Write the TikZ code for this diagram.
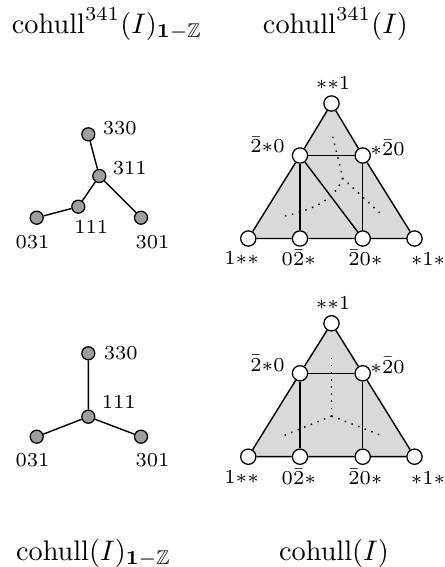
\documentclass[tikz,border=0pt]{standalone}
\usepackage{amsmath,amssymb}
\pgfdeclarelayer{background}
\pgfsetlayers{background,main}
\begin{document}
\begin{tikzpicture}[x=0.3534pt,y=-0.3534pt,
  tnode/.style={circle,draw,fill=black!38,inner sep=0pt,minimum size=4.6pt,line width=0.45pt},
  wnode/.style={circle,draw,fill=white,inner sep=0pt,minimum size=5.4pt,line width=0.45pt},
  edge/.style={line width=0.5pt},
  tri/.style={fill=black!15},
  dot/.style={dotted,line width=0.5pt},
  lab/.style={font=\scriptsize,inner sep=0pt},
  ttl/.style={inner sep=0pt,anchor=base}]
\useasboundingbox (0,0) rectangle (445,567);

% titles
\node[ttl] (t1) at (107,33) {$\mathrm{cohull}^{341}(I)_{\mathbf{1}-\mathbb{Z}}$};
\node[ttl] (t2) at (335.5,33) {$\mathrm{cohull}^{341}(I)$};
\node[ttl] (t3) at (93.5,560) {$\mathrm{cohull}(I)_{\mathbf{1}-\mathbb{Z}}$};
\node[ttl] (t4) at (334,560) {$\mathrm{cohull}(I)$};

% ---------- top tree ----------
\node[tnode] (a330) at (88.3,134.3) {};
\node[tnode] (a311) at (99.3,176) {};
\node[tnode] (a111) at (78.3,206.7) {};
\node[tnode] (a031) at (36.7,217.7) {};
\node[tnode] (a301) at (141,217.7) {};
\begin{pgfonlayer}{background}
\draw[edge] (a330) -- (a311) -- (a111) -- (a031);
\draw[edge] (a311) -- (a301);
\end{pgfonlayer}
\node[lab] (la330) at (119.7,128.3) {$330$};
\node[lab] (la311) at (129.7,168.3) {$311$};
\node[lab] (la111) at (91.3,226.7) {$111$};
\node[lab] (la031) at (32.5,241.7) {$031$};
\node[lab] (la301) at (152.5,241.7) {$301$};

% ---------- bottom tree ----------
\node[tnode] (b330) at (88.3,353.3) {};
\node[tnode] (b111) at (88.3,416.7) {};
\node[tnode] (b031) at (36.7,436.7) {};
\node[tnode] (b301) at (141,436.7) {};
\begin{pgfonlayer}{background}
\draw[edge] (b330) -- (b111) -- (b031);
\draw[edge] (b111) -- (b301);
\end{pgfonlayer}
\node[lab] (lb330) at (120.8,353.3) {$330$};
\node[lab] (lb111) at (118.8,401.7) {$111$};
\node[lab] (lb031) at (32.5,460) {$031$};
\node[lab] (lb301) at (152.5,460) {$301$};

% ---------- top triangle ----------
\node[wnode] (pT) at (331.5,103.5) {};
\node[wnode] (pA) at (300,155.5) {};
\node[wnode] (pB) at (362.7,155.5) {};
\node[wnode] (pL) at (248.3,238.5) {};
\node[wnode] (pC) at (300,238.5) {};
\node[wnode] (pD) at (362.7,238.5) {};
\node[wnode] (pR) at (414.5,238.5) {};
\begin{pgfonlayer}{background}
\fill[tri] (pT.center) -- (pL.center) -- (pR.center) -- cycle;
\draw[edge] (pT) -- (pA) -- (pL) -- (pC) -- (pD) -- (pR) -- (pB) -- (pT);
\draw[edge] (pA) -- (pB);
\draw[edge] (pA) -- (pC);
\draw[edge] (pB) -- (pD);
\draw[edge] (pA) -- (pD);
\coordinate (pj) at (342.5,178);
\coordinate (pj1) at (332.7,136.7);
\coordinate (pj2) at (282,216.5);
\coordinate (pj3) at (382,215);
\draw[dot] (pj1) .. controls (337,155) and (341,168) .. (pj);
\draw[dot] (pj) .. controls (336,198) and (315,210) .. (pj2);
\draw[dot] (pj) -- (pj3);
\end{pgfonlayer}
\node[lab] (lpT) at (333,83) {$*{*}1$};
\node[lab] (lpA) at (267.5,145) {$\bar{2}{*}0$};
\node[lab] (lpB) at (387.5,147.5) {$*\bar{2}0$};
\node[lab] (lpL) at (241.7,258) {$1{*}{*}$};
\node[lab] (lpC) at (298.8,258) {$0\bar{2}{*}$};
\node[lab] (lpD) at (365.5,258) {$\bar{2}0{*}$};
\node[lab] (lpR) at (428,259) {${*}1{*}$};

% ---------- bottom triangle ----------
\node[wnode] (qT) at (331.5,323.3) {};
\node[wnode] (qA) at (300,373.3) {};
\node[wnode] (qB) at (362.7,373.3) {};
\node[wnode] (qL) at (248.3,456.7) {};
\node[wnode] (qC) at (300,456.7) {};
\node[wnode] (qD) at (362.7,456.7) {};
\node[wnode] (qR) at (414.5,456.7) {};
\begin{pgfonlayer}{background}
\fill[tri] (qT.center) -- (qL.center) -- (qR.center) -- cycle;
\draw[edge] (qT) -- (qA) -- (qL) -- (qC) -- (qD) -- (qR) -- (qB) -- (qT);
\draw[edge] (qA) -- (qB);
\draw[edge] (qA) -- (qC);
\draw[edge] (qB) -- (qD);
\coordinate (qj) at (331.7,416);
\coordinate (qj1) at (331.7,355);
\coordinate (qj2) at (282.7,436);
\coordinate (qj3) at (382.7,436);
\draw[dot] (qj) -- (qj1);
\draw[dot] (qj) -- (qj2);
\draw[dot] (qj) -- (qj3);
\end{pgfonlayer}
\node[lab] (lqT) at (333,303) {$*{*}1$};
\node[lab] (lqA) at (267.5,363.3) {$\bar{2}{*}0$};
\node[lab] (lqB) at (387.5,365.3) {$*\bar{2}0$};
\node[lab] (lqL) at (241.7,477) {$1{*}{*}$};
\node[lab] (lqC) at (298.8,477) {$0\bar{2}{*}$};
\node[lab] (lqD) at (365.5,477) {$\bar{2}0{*}$};
\node[lab] (lqR) at (428,478) {${*}1{*}$};
\end{tikzpicture}
\end{document}
